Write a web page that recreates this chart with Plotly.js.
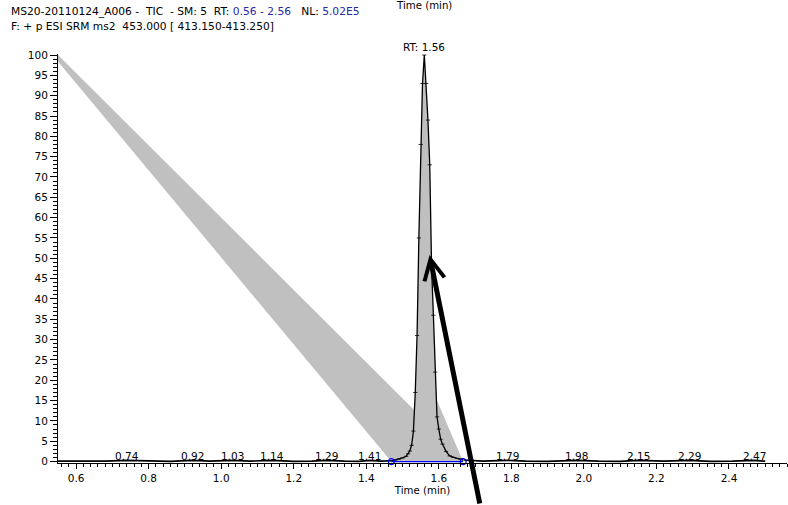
<!DOCTYPE html>
<html>
<head>
<meta charset="utf-8">
<script src="https://cdn.plot.ly/plotly-3.0.1.min.js"></script>
<style>
  html, body { margin: 0; padding: 0; background: #ffffff; }
  #chart { width: 788px; height: 505px; }
</style>
</head>
<body>
<div id="chart"></div>
<script>
// TIC baseline outside the peak (retention time in min, relative abundance in %)
const baseRT  = [0.55, 0.62, 0.68, 0.74, 0.80, 0.86, 0.92, 0.97, 1.03, 1.08, 1.14, 1.20, 1.25, 1.29, 1.34, 1.38, 1.41, 1.44, 1.47,
                 1.67, 1.72, 1.79, 1.84, 1.90, 1.98, 2.04, 2.10, 2.15, 2.22, 2.29, 2.35, 2.41, 2.47, 2.50];
const baseInt = [0.10, 0.05, 0.10, 0.30, 0.10, 0.05, 0.30, 0.10, 0.30, 0.10, 0.30, 0.05, 0.10, 0.30, 0.10, 0.05, 0.30, 0.10, 0.20,
                 0.40, 0.10, 0.30, 0.10, 0.05, 0.30, 0.10, 0.05, 0.30, 0.10, 0.30, 0.05, 0.10, 0.30, 0.10];

// Scans across the analyte peak
const peakRT  = [1.470, 1.480, 1.490, 1.500, 1.510, 1.515, 1.520, 1.525, 1.530, 1.535, 1.540, 1.545, 1.550, 1.555, 1.560,
                 1.565, 1.570, 1.575, 1.580, 1.585, 1.590, 1.595, 1.600, 1.605, 1.610, 1.620, 1.630, 1.640, 1.650, 1.660, 1.667];
const peakInt = [0.2, 0.4, 0.6, 0.9, 1.3, 1.9, 2.6, 4.0, 7.5, 17, 31, 55, 78, 93, 100,
                 93, 84, 73, 48, 36, 22, 11, 8.0, 5.5, 4.3, 2.5, 1.4, 1.0, 0.8, 0.6, 0.4];

// Integration start / end points
const integRT  = [1.469, 1.667];
const integInt = [0, 0];

// Shaded integration area outline
const areaRT  = [0.55, 1.469, 1.667, 1.569, 1.550, 0.55];
const areaInt = [98.4, 0, 0, 20.4, 11.1, 100];

// Labelled minor peaks along the baseline
const minorRT  = [0.74, 0.92, 1.03, 1.14, 1.29, 1.41, 1.79, 1.98, 2.15, 2.29, 2.47];
const minorInt = [0.30, 0.30, 0.30, 0.30, 0.30, 0.30, 0.30, 0.30, 0.30, 0.30, 0.30];

// Apex of the main peak
const apexRT = 1.56;
const apexInt = 100;

const FONT = 'DejaVu Sans';
const BLUE_TXT = 'rgb(40,40,170)';

const traces = [
  {
    x: areaRT, y: areaInt, type: 'scatter', mode: 'none',
    fill: 'toself', fillcolor: '#c0c0c0', hoverinfo: 'skip', showlegend: false
  },
  {
    x: peakRT, y: peakInt, type: 'scatter', mode: 'lines+markers',
    fill: 'tozeroy', fillcolor: '#c0c0c0',
    line: { color: '#000000', width: 1.3 },
    marker: { symbol: 'line-ew', size: 3, color: '#000000', line: { color: '#000000', width: 0.8 } },
    showlegend: false
  },
  {
    x: baseRT.slice(0, 19), y: baseInt.slice(0, 19), type: 'scatter', mode: 'lines',
    line: { color: '#000000', width: 1.6 }, showlegend: false
  },
  {
    x: baseRT.slice(19), y: baseInt.slice(19), type: 'scatter', mode: 'lines',
    line: { color: '#000000', width: 1.6 }, showlegend: false
  },
  {
    x: integRT, y: integInt, type: 'scatter', mode: 'lines+markers',
    line: { color: '#0000ff', width: 1.2 },
    marker: { symbol: 'circle-open', size: 6, color: '#0000ff', line: { color: '#0000ff', width: 1.2 } },
    cliponaxis: false, showlegend: false
  }
];

const annotations = [
  {
    xref: 'paper', yref: 'paper', x: -0.0658, y: (463 - 18.8) / 409, xanchor: 'left', yanchor: 'bottom',
    showarrow: false, align: 'left', borderpad: 0,
    text: 'MS20-20110124_A006 -&nbsp;&nbsp;TIC&nbsp;&nbsp;- SM: 5&nbsp;&nbsp;RT: <span style="color:' + BLUE_TXT + '">0.56 - 2.56</span>&nbsp;&nbsp;&nbsp;NL: <span style="color:' + BLUE_TXT + '">5.02E5</span>',
    font: { family: FONT, size: 10.7, color: '#000000' }
  },
  {
    xref: 'paper', yref: 'paper', x: -0.0658, y: (463 - 18.8) / 409, xanchor: 'left', yanchor: 'top',
    showarrow: false, align: 'left', borderpad: 0,
    text: 'F: + p ESI SRM ms2&nbsp;&nbsp;453.000 [ 413.150-413.250]',
    font: { family: FONT, size: 10.7, color: '#000000' }
  },
  {
    xref: 'paper', yref: 'paper', x: 0.4623, y: 1.1174, xanchor: 'left', yanchor: 'middle',
    showarrow: false, text: 'Time (min)', borderpad: 0,
    font: { family: FONT, size: 10.2, color: '#000000' }
  },
  {
    x: apexRT, y: apexInt, xanchor: 'center', yanchor: 'middle', yshift: 8.5,
    showarrow: false, text: 'RT: ' + apexRT.toFixed(2),
    font: { family: FONT, size: 10.5, color: '#000000' }
  },
  {
    // pointer arrow onto the peak flank
    x: 1.5745, y: 50.8, ax: 50.5, ay: 253, axref: 'pixel', ayref: 'pixel',
    text: '', showarrow: true, arrowhead: 5, arrowsize: 0.8, arrowwidth: 5,
    arrowcolor: '#000000', standoff: 0, startstandoff: 0
  }
];

minorRT.forEach(function (rt, i) {
  annotations.push({
    x: rt, y: minorInt[i], xanchor: 'center', yanchor: 'middle', yshift: 4,
    showarrow: false, text: rt.toFixed(2),
    font: { family: FONT, size: 10.5, color: '#000000' }
  });
});

const tickFont = { family: FONT, size: 10.5, color: '#000000' };

const layout = {
  width: 788, height: 505,
  margin: { l: 58, r: 1, t: 54, b: 42, pad: 0 },
  paper_bgcolor: '#ffffff', plot_bgcolor: '#ffffff',
  showlegend: false,
  xaxis: {
    range: [0.55, 2.56], tick0: 0, dtick: 0.2, tickformat: '.1f',
    ticks: 'outside', ticklen: 5, tickwidth: 1, tickcolor: '#000000',
    minor: { dtick: 0.02, ticks: 'outside', ticklen: 2.5, tickwidth: 1, tickcolor: '#000000' },
    showline: true, linecolor: '#000000', linewidth: 1,
    showgrid: false, zeroline: false,
    tickfont: tickFont,
    title: { text: 'Time (min)', font: { family: FONT, size: 10.2, color: '#000000' }, standoff: 4 }
  },
  yaxis: {
    range: [-0.35, 100.25], tick0: 0, dtick: 5,
    ticks: 'outside', ticklen: 7, tickwidth: 1, tickcolor: '#000000',
    minor: { dtick: 1, ticks: 'outside', ticklen: 4, tickwidth: 1, tickcolor: '#000000' },
    showline: true, linecolor: '#000000', linewidth: 1,
    showgrid: false, zeroline: false,
    tickfont: tickFont
  },
  annotations: annotations
};

Plotly.newPlot('chart', traces, layout, { displayModeBar: false, staticPlot: true });
</script>
</body>
</html>
